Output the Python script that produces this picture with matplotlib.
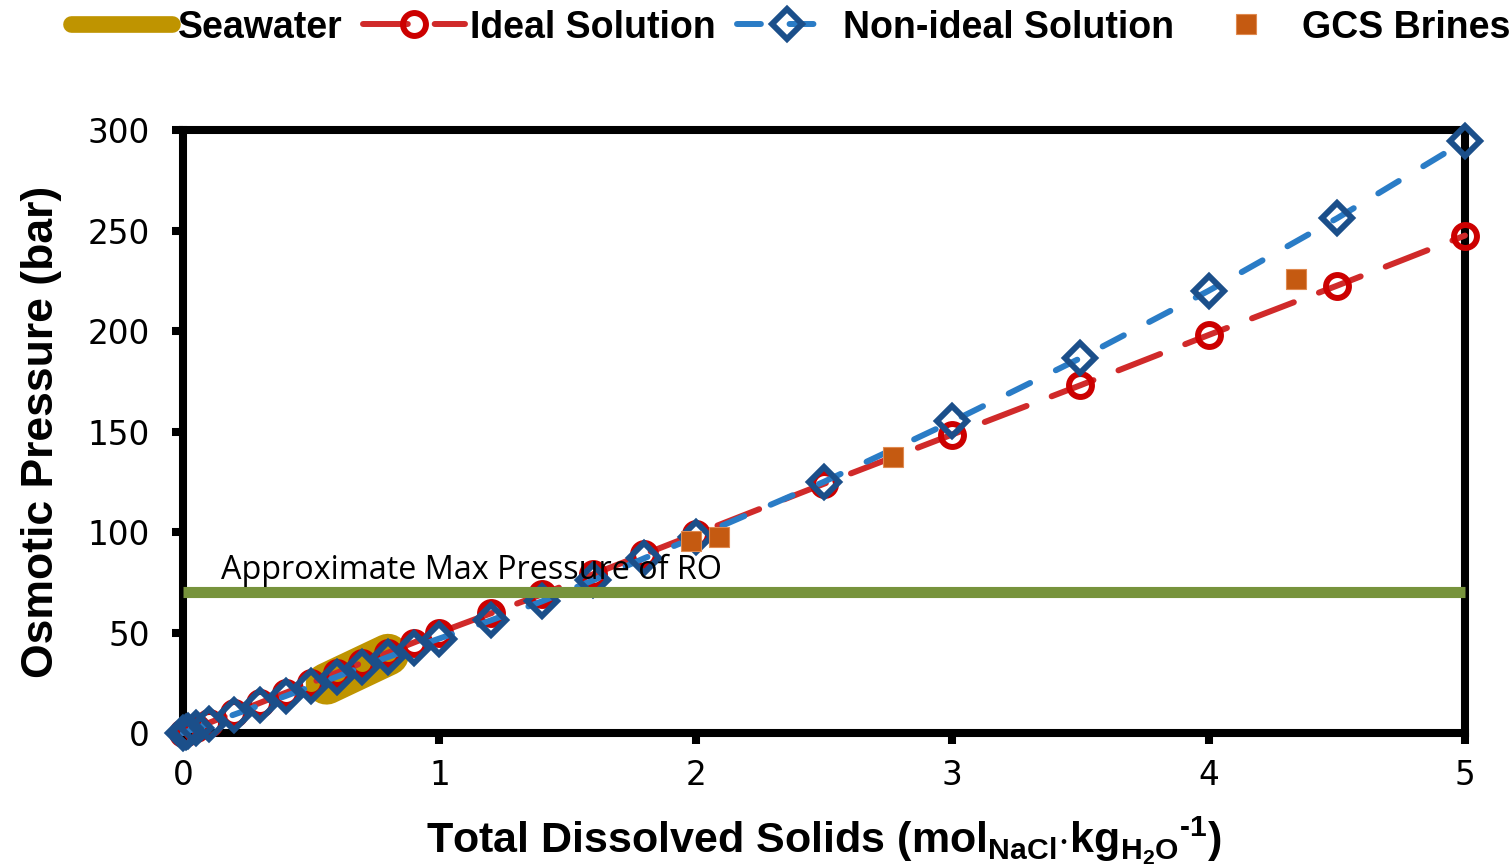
import matplotlib
matplotlib.use("Agg")

import matplotlib.pyplot as plt
from matplotlib.lines import Line2D

# ----------------------------------------------------------
# Data
# ----------------------------------------------------------

TDS_IDEAL = [0, 0.01, 0.02, 0.05, 0.1, 0.2, 0.3, 0.4, 0.5, 0.6, 0.7, 0.8,
             0.9, 1.0, 1.2, 1.4, 1.6, 1.8, 2.0, 2.5, 3.0, 3.5, 4.0, 4.5, 5.0]
P_IDEAL = [0, 0.5, 1.0, 2.5, 5.0, 10.0, 15.0, 20.0, 25.0, 30.0, 35.0, 40.0,
           45.0, 50.0, 59.5, 69.0, 79.0, 89.0, 99.0, 124.0, 148.5, 173.0,
           198.0, 222.5, 247.5]

TDS_NONIDEAL = [0, 0.01, 0.02, 0.05, 0.1, 0.2, 0.3, 0.4, 0.5, 0.6, 0.7, 0.8,
                0.9, 1.0, 1.2, 1.4, 1.6, 1.8, 2.0, 2.5, 3.0, 3.5, 4.0, 4.5, 5.0]
P_NONIDEAL = [0, 0.5, 0.9, 2.3, 4.6, 9.2, 13.8, 18.4, 23.2, 28.0, 33.0, 37.8,
              42.5, 47.0, 56.0, 65.5, 76.0, 87.0, 97.5, 125.0, 155.0, 186.5,
              220.0, 256.0, 294.5]

TDS_GCS = [1.98, 2.09, 2.77, 4.34]
P_GCS = [95.5, 97.5, 137.5, 226.0]

TDS_SEAWATER = [0.56, 0.8]
P_SEAWATER = [24.5, 39.0]

RO_MAX = 70
TDS_LIMITS = [0, 5]

X_TICKS = [0, 1, 2, 3, 4, 5]
Y_TICKS = [0, 50, 100, 150, 200, 250, 300]

# ----------------------------------------------------------
# Style
# ----------------------------------------------------------

RED_LINE = "#d02a2a"
RED_MARK = "#cc0000"
BLUE_LINE = "#2a7cc6"
BLUE_MARK = "#1b4f8a"
ORANGE = "#c55a11"
GOLD = "#bf9400"
GREEN = "#77933c"

BOLD = {"family": "Liberation Sans", "weight": "bold"}

plt.rcParams["font.family"] = "DejaVu Sans"
plt.rcParams["mathtext.fontset"] = "custom"
plt.rcParams["mathtext.rm"] = "Liberation Sans:bold"
plt.rcParams["mathtext.it"] = "Liberation Sans:bold"
plt.rcParams["mathtext.bf"] = "Liberation Sans:bold"

# ----------------------------------------------------------
# Figure
# ----------------------------------------------------------

fig = plt.figure(figsize=(15.11, 8.64), dpi=100)
ax = fig.add_axes([0.1211, 0.1516, 0.8484, 0.6979])

ax.plot(TDS_SEAWATER, P_SEAWATER, color=GOLD, lw=30,
        solid_capstyle="round", zorder=1)

ideal, = ax.plot(TDS_IDEAL, P_IDEAL, color=RED_LINE, lw=4.3,
                 dashes=(7.5, 4.5), dash_capstyle="round",
                 marker="o", ms=16.5, mew=4.3, mec=RED_MARK, mfc="none",
                 clip_on=False, zorder=3)

nonideal, = ax.plot(TDS_NONIDEAL, P_NONIDEAL, color=BLUE_LINE, lw=4.3,
                    dashes=(4, 4.8), dash_capstyle="round",
                    marker="D", ms=15, mew=4.3, mec=BLUE_MARK, mfc="none",
                    clip_on=False, zorder=4)

brines, = ax.plot(TDS_GCS, P_GCS, ls="none", marker="s", ms=14,
                  color=ORANGE, mec="#e08a50", mew=0.8, zorder=5)

ax.plot(TDS_LIMITS, [RO_MAX, RO_MAX], color=GREEN, lw=8,
        solid_capstyle="butt", zorder=6, clip_on=False)

ax.text(0.15, RO_MAX + 2.5, "Approximate Max Pressure of RO",
        family="Open Sans", fontsize=23.3, color="black",
        ha="left", va="bottom", zorder=7)

# ----------------------------------------------------------
# Axes
# ----------------------------------------------------------

ax.set_xlim(0, 5)
ax.set_ylim(0, 300)
ax.set_xticks(X_TICKS)
ax.set_yticks(Y_TICKS)

for side in ["left", "right", "top", "bottom"]:
    ax.spines[side].set_linewidth(5.8)
    ax.spines[side].set_color("black")

ax.tick_params(axis="both", direction="out", length=8, width=5.8,
               labelsize=23.5, color="black")
ax.tick_params(axis="y", pad=16)
ax.tick_params(axis="x", pad=11)

ax.set_xlabel(r"Total Dissolved Solids (mol$_{\mathrm{NaCl}}$"
              r"$\cdot$kg$_{\mathrm{H_2O}}{}^{\text{-1}}$)",
              fontsize=31, labelpad=16, **BOLD)
ax.set_ylabel("Osmotic Pressure (bar)", fontsize=32, labelpad=18, **BOLD)

# ----------------------------------------------------------
# Legend
# ----------------------------------------------------------

seawater_handle = Line2D([], [], color=GOLD, lw=12, solid_capstyle="round")

fig.legend([seawater_handle, ideal, nonideal, brines],
           ["Seawater", "Ideal Solution", "Non-ideal Solution", "GCS Brines"],
           loc="upper left", bbox_to_anchor=(0.047, 0.989), ncol=4,
           frameon=False, prop={**BOLD, "size": 27},
           handlelength=2.7, handletextpad=0.15, columnspacing=0.55,
           borderpad=0, borderaxespad=0)

fig.savefig("out.png", dpi=100)
plt.close(fig)
